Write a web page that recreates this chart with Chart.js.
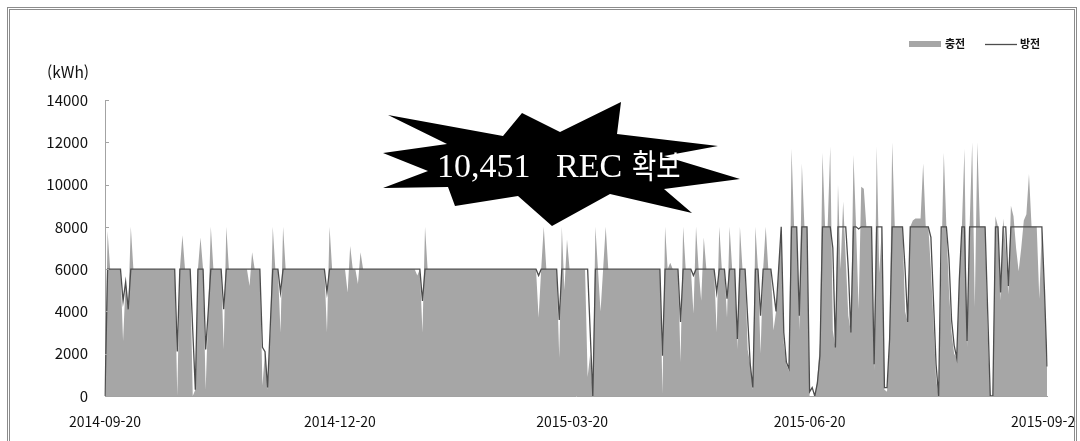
<!DOCTYPE html>
<html lang="ko">
<head>
<meta charset="utf-8">
<title>충전 · 방전 (kWh)</title>
<script src="https://cdn.jsdelivr.net/npm/chart.js@4.4.1/dist/chart.umd.min.js"></script>
<style>
  html, body { margin: 0; padding: 0; background: #fff; width: 1080px; height: 441px; overflow: hidden; }
  #plot { position: absolute; left: 0; top: 0; }
  #frame { position: absolute; left: 7px; top: 7px; width: 1064px; height: 460px; border: 3px double #8c8c8c; pointer-events: none; }
  #edge { position: absolute; left: 1076px; top: 0; width: 30px; height: 441px; background: #fff; }
</style>
</head>
<body>
<canvas id="plot" width="1100" height="441"></canvas>
<div id="edge"></div>
<div id="frame"></div>
<script>
// Daily series, one value per day starting on firstDay.
const firstDay = '2014-09-20';
const tickLabels = ['2014-09-20', '2014-12-20', '2015-03-20', '2015-06-20', '2015-09-20'];
const yMin = 0, yMax = 14000, yStep = 2000;
const seriesNames = ['충전', '방전'];
const unitLabel = '(kWh)';
const badgeWords = ['10,451', 'REC', '확보'];

// 충전 (kWh per day)
const charge = [
  0,7800,6000,6000,6000,6000,6000,2600,5400,4100,
  8000,6000,6000,6000,6000,6000,6000,6000,6000,6000,
  6000,6000,6000,6000,6000,6000,6000,6000,0,6000,
  7600,6000,6000,6000,0,300,6000,7500,6000,300,
  4000,8000,6000,6000,6000,6000,2200,8000,6000,6000,
  6000,6000,6000,6000,6000,6000,5200,6800,6000,6000,
  6000,500,2100,300,3000,8000,6000,6000,3000,8000,
  6000,6000,6000,6000,6000,6000,6000,6000,6000,6000,
  6000,6000,6000,6000,6000,6000,3000,8000,6000,6000,
  6000,6000,6000,6000,4900,7100,6000,6000,5300,6800,
  6000,6000,6000,6000,6000,6000,6000,6000,6000,6000,
  6000,6000,6000,6000,6000,6000,6000,6000,6000,6000,
  6000,5700,6000,3000,8000,6000,6000,6000,6000,6000,
  6000,6000,6000,6000,6000,6000,6000,6000,6000,6000,
  6000,6000,6000,6000,6000,6000,6000,6000,6000,6000,
  6000,6000,6000,6000,6000,6000,6000,6000,6000,6000,
  6000,6000,6000,6000,6000,6000,6000,6000,3700,6000,
  8000,6000,6000,6000,6000,6000,1800,8000,5000,7400,
  6000,6000,6000,6000,6000,6000,6000,900,2000,0,
  8000,6000,4000,6000,8000,6000,6000,6000,6000,6000,
  6000,6000,6000,6000,6000,6000,6000,6000,6000,6000,
  6000,6000,6000,6000,6000,6000,100,8000,6000,6300,
  6000,6000,6000,1600,8000,6000,6000,6000,3900,8000,
  6000,4500,7500,6000,6000,6000,6000,3000,8000,6000,
  6000,3700,8000,6000,6000,2200,8000,6000,6000,2200,
  1500,300,8000,6000,2000,6000,8000,6000,6000,3100,
  4000,6000,8000,2500,1500,1200,11700,8000,8000,3100,
  11000,8000,8000,0,0,0,800,2500,11500,8000,
  8000,11800,3100,2300,10000,6000,9200,6500,3800,3000,
  11400,8000,4100,9900,9800,8000,8000,8000,1200,11800,
  5800,8000,300,200,2700,12000,8000,8000,8000,8000,
  4000,3500,8000,8300,8400,8400,8400,11000,8000,8000,
  6000,3500,800,0,6000,11500,8000,5000,3000,2000,
  1800,5500,8000,11700,2300,8000,12000,4200,12000,8000,
  8000,8000,3000,0,0,8500,8000,4500,8400,7000,
  4800,9000,8500,7000,5900,7000,8300,8600,10500,8000,
  8000,8000,4600,8000,4800,1400
];

// 방전 (kWh per day)
const discharge = [
  0,6000,6000,6000,6000,6000,6000,4500,5400,4100,
  6000,6000,6000,6000,6000,6000,6000,6000,6000,6000,
  6000,6000,6000,6000,6000,6000,6000,6000,2100,6000,
  6000,6000,6000,6000,3100,300,6000,6000,6000,2200,
  4000,6000,6000,6000,6000,6000,4100,6000,6000,6000,
  6000,6000,6000,6000,6000,6000,6000,6000,6000,6000,
  6000,2300,2100,400,3200,6000,6000,6000,4900,6000,
  6000,6000,6000,6000,6000,6000,6000,6000,6000,6000,
  6000,6000,6000,6000,6000,6000,4900,6000,6000,6000,
  6000,6000,6000,6000,6000,6000,6000,6000,6000,6000,
  6000,6000,6000,6000,6000,6000,6000,6000,6000,6000,
  6000,6000,6000,6000,6000,6000,6000,6000,6000,6000,
  6000,6000,6000,4500,6000,6000,6000,6000,6000,6000,
  6000,6000,6000,6000,6000,6000,6000,6000,6000,6000,
  6000,6000,6000,6000,6000,6000,6000,6000,6000,6000,
  6000,6000,6000,6000,6000,6000,6000,6000,6000,6000,
  6000,6000,6000,6000,6000,6000,6000,6000,5700,6000,
  6000,6000,6000,6000,6000,6000,3600,6000,6000,6000,
  6000,6000,6000,6000,6000,6000,6000,6000,3000,0,
  6000,6000,6000,6000,6000,6000,6000,6000,6000,6000,
  6000,6000,6000,6000,6000,6000,6000,6000,6000,6000,
  6000,6000,6000,6000,6000,6000,1900,6000,6000,6000,
  6000,6000,6000,3500,6000,6000,6000,6000,5700,6000,
  6000,6000,6000,6000,6000,6000,6000,4900,6000,6000,
  6000,4600,6000,6000,6000,2700,6000,6000,6000,3700,
  1500,400,6000,6000,3800,6000,6000,6000,6000,5000,
  4000,6000,8000,3000,1600,1300,8000,8000,8000,3800,
  8000,8000,8000,200,400,0,600,1900,8000,8000,
  8000,8000,7000,2300,8000,8000,8000,8000,6000,3000,
  8000,8000,7900,8000,8000,8000,8000,8000,1500,8000,
  8000,8000,400,400,2700,8000,8000,8000,8000,8000,
  6000,3500,8000,8000,8000,8000,8000,8000,8000,8000,
  7500,4500,1500,0,8000,8000,8000,6500,3600,2400,
  1800,5500,8000,8000,2600,8000,8000,8000,8000,8000,
  8000,8000,4000,0,0,8000,8000,4900,8000,8000,
  5200,8000,8000,8000,8000,8000,8000,8000,8000,8000,
  8000,8000,8000,8000,5000,1400
];

// Calendar labels for each day of the series.
function buildDays(start, count) {
  const out = [];
  const d = new Date(start + 'T00:00:00Z');
  for (let i = 0; i < count; i++) {
    out.push(d.toISOString().slice(0, 10));
    d.setUTCDate(d.getUTCDate() + 1);
  }
  return out;
}
const days = buildDays(firstDay, charge.length);

const AREA_COLOR = '#a6a6a6';
const LINE_COLOR = '#4d4d4d';
const AXIS_COLOR = '#a3a3a3';
const TEXT_COLOR = '#111111';
const FONT_FAMILY = '"Noto Sans CJK KR", "Noto Sans", sans-serif';

// Extra drawing: unit caption, inward y tick marks, legend and the REC badge.
const decorations = {
  id: 'decorations',
  afterDraw(chart) {
    const ctx = chart.ctx;
    const area = chart.chartArea;
    const yScale = chart.scales.y;
    ctx.save();

    // unit caption above the y axis
    ctx.fillStyle = TEXT_COLOR;
    ctx.font = '15.5px ' + FONT_FAMILY;
    ctx.textAlign = 'left';
    ctx.textBaseline = 'middle';
    ctx.fillText(unitLabel, 47, 72);

    // short tick marks pointing into the plot
    ctx.strokeStyle = AXIS_COLOR;
    ctx.lineWidth = 1;
    yScale.ticks.forEach(t => {
      const y = Math.round(yScale.getPixelForValue(t.value)) + 0.5;
      ctx.beginPath();
      ctx.moveTo(area.left, y);
      ctx.lineTo(area.left + 4, y);
      ctx.stroke();
    });

    // legend, top right
    const ds = chart.data.datasets;
    ctx.font = 'bold 11px ' + FONT_FAMILY;
    ctx.textBaseline = 'middle';
    ctx.fillStyle = ds[0].backgroundColor;
    ctx.fillRect(909, 41, 32, 6);
    ctx.fillStyle = TEXT_COLOR;
    ctx.fillText(ds[0].label, 945, 44);
    ctx.strokeStyle = ds[1].borderColor;
    ctx.lineWidth = 1.3;
    ctx.beginPath();
    ctx.moveTo(985, 44.5);
    ctx.lineTo(1017, 44.5);
    ctx.stroke();
    ctx.fillText(ds[1].label, 1020, 44);

    // black starburst badge
    const star = [
      [388,115],[503,136],[522,113],[560,132],[621,102],[617,134],
      [718,146],[664,156],[740,179],[664,189],[692,213],[610,194],
      [552,226],[518,196],[455,206],[448,187],[383,188],[428,171],
      [383,153],[447,144]
    ];
    ctx.fillStyle = '#000';
    ctx.beginPath();
    star.forEach((p, i) => i ? ctx.lineTo(p[0], p[1]) : ctx.moveTo(p[0], p[1]));
    ctx.closePath();
    ctx.fill();

    ctx.fillStyle = '#fff';
    ctx.textAlign = 'left';
    ctx.textBaseline = 'alphabetic';
    ctx.font = '34px "Liberation Serif", "DejaVu Serif", serif';
    ctx.fillText(badgeWords[0], 437, 177);
    ctx.fillText(badgeWords[1], 556, 177);
    ctx.save();
    ctx.translate(632, 178);
    ctx.scale(0.8, 1);
    ctx.font = '33px "Noto Sans CJK KR", sans-serif';
    ctx.fillText(badgeWords[2], 0, 0);
    ctx.restore();

    ctx.restore();
  }
};

new Chart(document.getElementById('plot'), {
  type: 'line',
  data: {
    labels: days,
    datasets: [
      {
        label: seriesNames[0],
        data: charge,
        backgroundColor: AREA_COLOR,
        borderColor: AREA_COLOR,
        borderWidth: 0,
        fill: 'origin',
        pointRadius: 0,
        tension: 0,
        order: 2
      },
      {
        label: seriesNames[1],
        data: discharge,
        borderColor: LINE_COLOR,
        backgroundColor: LINE_COLOR,
        borderWidth: 1.3,
        fill: false,
        pointRadius: 0,
        tension: 0,
        order: 1
      }
    ]
  },
  options: {
    responsive: false,
    animation: false,
    devicePixelRatio: 1,
    events: [],
    layout: { padding: { left: 0, right: 42, top: 100, bottom: 0 } },
    plugins: { legend: { display: false }, tooltip: { enabled: false } },
    scales: {
      x: {
        type: 'category',
        offset: false,
        grid: { display: false, drawTicks: false },
        border: { display: true, color: AXIS_COLOR, width: 1 },
        ticks: {
          autoSkip: false,
          maxRotation: 0,
          minRotation: 0,
          padding: 17,
          color: TEXT_COLOR,
          font: { family: FONT_FAMILY, size: 14 },
          callback: (value, index) => tickLabels.includes(days[index]) ? days[index] : null
        },
        afterFit: scale => { scale.height = 45; }
      },
      y: {
        min: yMin,
        max: yMax,
        grid: { display: false, drawTicks: false },
        border: { display: true, color: AXIS_COLOR, width: 1 },
        ticks: {
          stepSize: yStep,
          padding: 17,
          color: TEXT_COLOR,
          font: { family: FONT_FAMILY, size: 15 },
          callback: value => String(value)
        },
        afterFit: scale => { scale.width = 105; }
      }
    }
  },
  plugins: [decorations]
});
</script>
</body>
</html>
